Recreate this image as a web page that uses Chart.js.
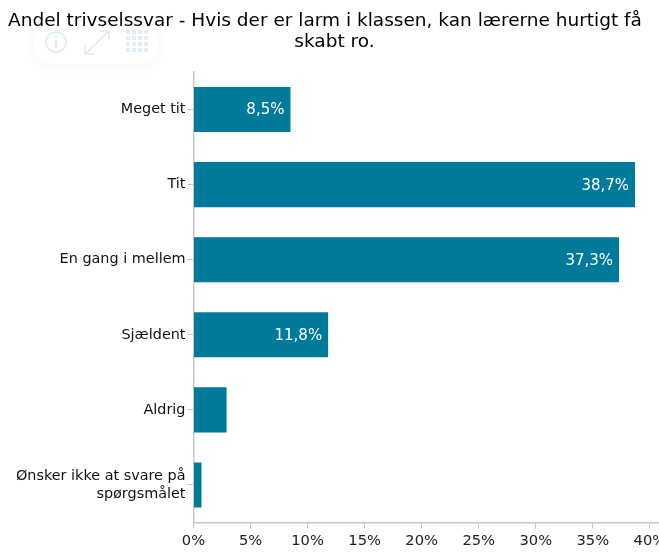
<!DOCTYPE html>
<html><head><meta charset="utf-8">
<style>
html,body{margin:0;padding:0;background:#fff}
#wrap{position:relative;width:659px;height:552px;overflow:hidden}
#toolbar{position:absolute;left:34px;top:22px;width:124px;height:42px;border-radius:18px;background:#fff;box-shadow:0 2px 12px rgba(0,60,90,.05)}
canvas{position:absolute;left:0;top:0}
</style>
<script src="https://cdn.jsdelivr.net/npm/chart.js@4"></script>
</head><body>
<div id="wrap">
<div id="toolbar"><svg width="124" height="42" fill="none" stroke="#e0ebf0" stroke-width="1.6">
<circle cx="22" cy="20" r="10"/><path d="M22 18v8M22 14v2" stroke-width="2"/>
<path d="M52 31L74 10M66 9h9v9M51 23v9h9"/>
<g stroke="none" fill="#e3edf1"><rect x="92" y="8" width="4" height="4"/><rect x="98" y="8" width="4" height="4"/><rect x="104" y="8" width="4" height="4"/><rect x="110" y="8" width="4" height="4"/><rect x="92" y="14" width="4" height="4"/><rect x="98" y="14" width="4" height="4"/><rect x="104" y="14" width="4" height="4"/><rect x="110" y="14" width="4" height="4"/><rect x="92" y="20" width="4" height="4"/><rect x="98" y="20" width="4" height="4"/><rect x="104" y="20" width="4" height="4"/><rect x="110" y="20" width="4" height="4"/><rect x="92" y="26" width="4" height="4"/><rect x="98" y="26" width="4" height="4"/><rect x="104" y="26" width="4" height="4"/><rect x="110" y="26" width="4" height="4"/></g>
</svg></div>
<canvas id="c" width="659" height="552"></canvas>
</div>
<script>
const categories = ["Meget tit","Tit","En gang i mellem","Sjældent","Aldrig",["Ønsker ikke at svare på","spørgsmålet"]];
const values = [8.5,38.7,37.3,11.8,2.9,0.7];
const valueLabels = ["8,5%","38,7%","37,3%","11,8%","",""];
const tickValues = [0,5,10,15,20,25,30,35,40];
const titleLines = ["Andel trivselssvar - Hvis der er larm i klassen, kan lærerne hurtigt få","skabt ro."];
const titleCentres = [325,334.5];
const titleBaselines = [26,47];
const FONT = '"DejaVu Sans", Verdana, sans-serif';

const titlePlugin = {
  id:'titleLines',
  afterDraw(chart){
    const ctx = chart.ctx;
    ctx.save();
    ctx.font = '18.5px '+FONT; ctx.fillStyle='#000';
    ctx.textAlign='center'; ctx.textBaseline='alphabetic';
    titleLines.forEach((t,i)=>ctx.fillText(t,titleCentres[i],titleBaselines[i]));
    ctx.restore();
  }
};
const barLabels = {
  id:'barLabels',
  afterDatasetsDraw(chart){
    const ctx = chart.ctx, meta = chart.getDatasetMeta(0);
    ctx.save();
    ctx.font = '15px '+FONT; ctx.fillStyle='#ffffff';
    ctx.textAlign='right'; ctx.textBaseline='middle';
    meta.data.forEach((b,i)=>{ if(valueLabels[i]) ctx.fillText(valueLabels[i], b.x-6, b.y+1); });
    ctx.restore();
  }
};
new Chart(document.getElementById('c'),{
  type:'bar',
  data:{labels:categories,datasets:[{data:values,backgroundColor:'#007a9b',barPercentage:0.6,categoryPercentage:1}]},
  plugins:[barLabels,titlePlugin],
  options:{
    indexAxis:'y',responsive:false,animation:false,
    layout:{padding:{top:72,right:0,bottom:0,left:0}},
    plugins:{legend:{display:false},tooltip:{enabled:false},title:{display:false}},
    scales:{
      x:{type:'linear',min:0,max:40.8,
        grid:{display:true,drawOnChartArea:false,color:'#c3c7cb',tickLength:6},
        border:{color:'#c3c7cb',width:1.5},
        afterBuildTicks(s){s.ticks=tickValues.map(v=>({value:v}));},
        afterFit(s){s.height=29.5;s.paddingRight=0;s.paddingLeft=0;},
        ticks:{maxRotation:0,autoSkip:false,padding:4,color:'#222',font:{family:FONT,size:14.7},callback:v=>v+'%'}},
      y:{
        grid:{display:true,offset:false,drawOnChartArea:false,color:'#c3c7cb',tickLength:6},
        border:{color:'#c3c7cb',width:1.5},
        afterFit(s){s.width=193.5;s.paddingTop=0;s.paddingBottom=0;},
        ticks:{padding:2,crossAlign:'near',autoSkip:false,color:'#111',font:{family:FONT,size:14.4,lineHeight:1.27}}}
    }
  }
});
</script>
</body></html>
